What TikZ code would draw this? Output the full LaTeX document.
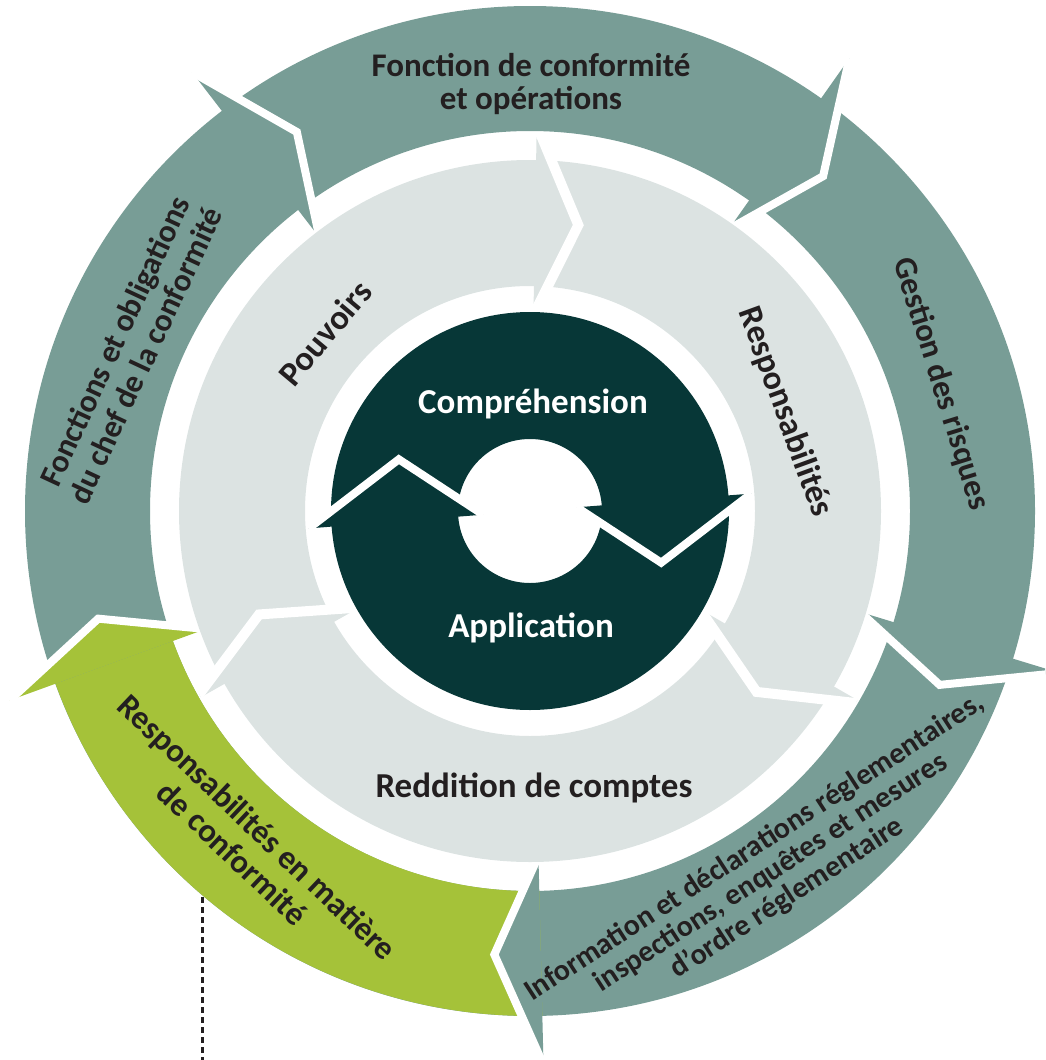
\documentclass[tikz,border=0pt]{standalone}
\usepackage{fontspec}
\setmainfont{Carlito}
\usetikzlibrary{calc}
\definecolor{tealc}{HTML}{789D96}
\definecolor{greenc}{HTML}{A5C239}
\definecolor{greyc}{HTML}{DCE3E2}
\definecolor{darkc}{HTML}{073737}
\definecolor{txtc}{HTML}{231F20}
% #1 colour, #2 base angle, #3 tip offset, #4 r outer barb, #5 r tip, #6 r inner barb, #7 gap, #8 name
\newcommand{\headshape}[8]{%
  \pgfmathsetmacro\tipang{#2+#3}%
  \coordinate (#8o) at ($(C)+(#2:#4)$);
  \coordinate (#8t) at ($(C)+(\tipang:#5)$);
  \coordinate (#8i) at ($(C)+(#2:#6)$);
  \fill[#1] (#8o) -- (#8t) -- (#8i) -- cycle;
  \draw[white, line width=#7, miter limit=20] (#8o) -- (#8t) -- (#8i);
}
\begin{document}
\begin{tikzpicture}[x=1pt,y=-1pt,
  lbl/.style={text=txtc, align=center, inner sep=0pt},
  wlbl/.style={text=white, align=center, inner sep=0pt},
  dotline/.style={draw=txtc, line width=3pt, dash pattern=on 6pt off 4pt}]
\useasboundingbox (0,0) rectangle (1045,1060);
\clip (0,0) rectangle (1045,1060);
\coordinate (C) at (530,511);

% ---------- outer ring ----------
\fill[tealc, even odd rule] (C) circle[radius=505] (C) circle[radius=380];
\fill[greenc] plot[domain=88.6:160, samples=60] ({530+505*cos(\x)},{511+505*sin(\x)})
  -- plot[domain=160:88.6, samples=60] ({530+380*cos(\x)},{511+380*sin(\x)}) -- cycle;
\headshape{tealc}{-127.6}{6}{554}{445}{345}{8pt}{hA}
\headshape{tealc}{-54.8}{6}{554}{445}{345}{8pt}{hB}
\headshape{tealc}{17}{6}{554}{445}{345}{8pt}{hC}
\headshape{tealc}{88.6}{6}{554}{445}{345}{8pt}{hD}
\headshape{greenc}{160}{6}{554}{445}{345}{8pt}{hE}

% ---------- grey ring ----------
\begin{scope}
\clip (C) circle[radius=378];
\fill[greyc, even odd rule] (C) circle[radius=351] (C) circle[radius=225];
\headshape{greyc}{-89}{8.6}{386}{290}{196}{10pt}{gA}
\headshape{greyc}{30}{8.6}{386}{290}{196}{10pt}{gB}
\headshape{greyc}{150.5}{8.6}{386}{290}{196}{10pt}{gC}
\end{scope}

% ---------- dark ring ----------
\fill[darkc, even odd rule] (C) circle[radius=199] (C) circle[radius=72];
\headshape{darkc}{-4.5}{26}{222}{141}{47}{8pt}{dA}
\headshape{darkc}{175.5}{26}{222}{141}{47}{8pt}{dB}

% ---------- labels ----------
\node[lbl, font=\fontsize{33}{33}\selectfont\bfseries] (ltop) at (531,84)
  {Fonction de conformité\\et opérations};
\node[lbl, font=\fontsize{32.5}{33}\selectfont\bfseries, rotate=-72.7] (lrisk) at (941,384)
  {Gestion des risques};
\node[lbl, font=\fontsize{30}{30}\selectfont\bfseries, rotate=33] (linfo) at (771,873)
  {Information et déclarations réglementaires,\\inspections, enquêtes et mesures\\d’ordre réglementaire};
\node[lbl, font=\fontsize{33}{36}\selectfont\bfseries, rotate=-43.5] (lgreen) at (245,840)
  {Responsabilités en matière\\de conformité};
\node[lbl, font=\fontsize{32}{34}\selectfont\bfseries, rotate=65] (lchef) at (130,348)
  {Fonctions et obligations\\du chef de la conformité};
\node[lbl, font=\fontsize{34.5}{36}\selectfont\bfseries, rotate=50] (lpouv) at (325,333)
  {Pouvoirs};
\node[lbl, font=\fontsize{34}{36}\selectfont\bfseries, rotate=-70] (lresp) at (785,412)
  {Responsabilités};
\node[lbl, font=\fontsize{35}{36}\selectfont\bfseries] (lredd) at (534,788)
  {Reddition de comptes};
\node[wlbl, font=\fontsize{35}{36}\selectfont\bfseries] (lcomp) at (533,404)
  {Compréhension};
\node[wlbl, font=\fontsize{35}{36}\selectfont\bfseries] (lappl) at (531,628)
  {Application};

% ---------- dotted connector ----------
\coordinate (dtop) at (202,897);
\coordinate (dbot) at (202,1060);
\draw[dotline] (dtop) -- (dbot);
\end{tikzpicture}
\end{document}
